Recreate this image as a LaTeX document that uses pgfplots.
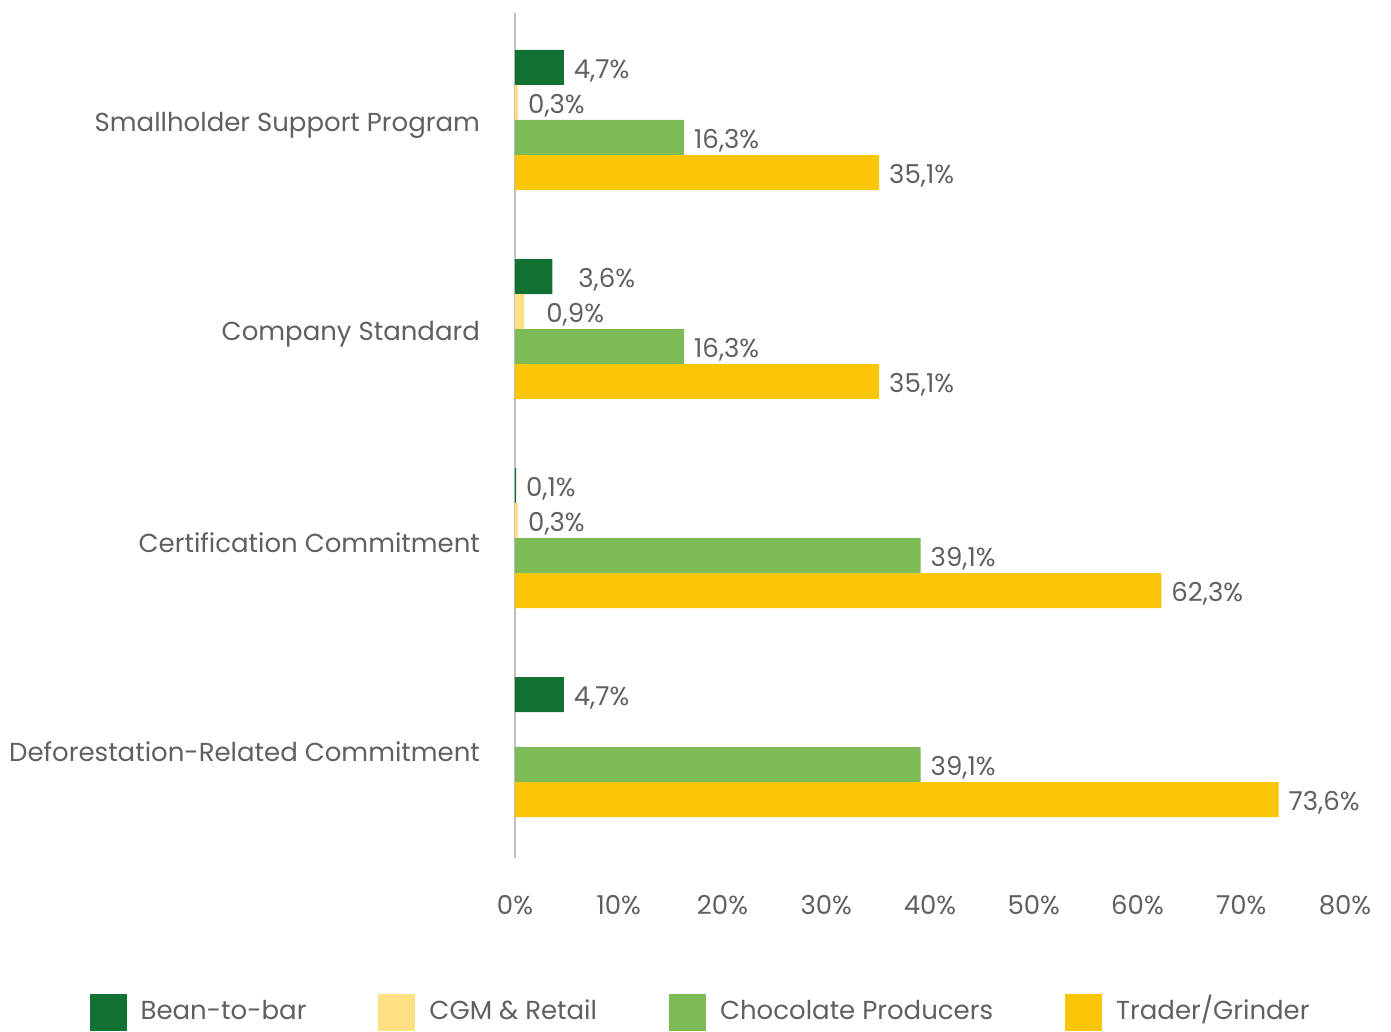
\documentclass[border=0pt]{standalone}
\usepackage{fontspec}
\setmainfont{Poppins}
\usepackage{pgfplots}
\pgfplotsset{compat=1.18}
\usetikzlibrary{calc}
\definecolor{beancol}{HTML}{137233}
\definecolor{cgmcol}{HTML}{FFE083}
\definecolor{choccol}{HTML}{7DBB56}
\definecolor{tradercol}{HTML}{FBC508}
\definecolor{txtcol}{HTML}{606060}
\definecolor{axcol}{HTML}{BFBFBF}
\newcommand{\lblfont}{\fontsize{13}{15}\selectfont}
\begin{document}
\begin{tikzpicture}
\begin{axis}[
  name=ax,
  at={(0,0)}, anchor=south west,
  scale only axis,
  width=415pt, height=422.5pt,
  xmin=0, xmax=80,
  ymin=-0.531, ymax=3.512,
  xbar, bar width=17.5pt,
  axis lines*=left,
  x axis line style={draw=none},
  y axis line style={draw=axcol, line width=0.8pt, -},
  major tick length=0pt,
  xtick={0,10,...,80},
  xticklabel={\pgfmathprintnumber{\tick}\%},
  /pgf/number format/assume math mode=true,
  xticklabel style={font=\lblfont, text=txtcol, yshift=-15pt},
  ytick={0,1,2,3},
  yticklabels={Deforestation-Related Commitment, Certification Commitment, Company Standard, Smallholder Support Program},
  yticklabel style={font=\lblfont, text=txtcol, xshift=-14pt, yshift=-2.5pt},
  nodes near coords,
  point meta=explicit symbolic,
  every node near coord/.append style={font=\lblfont, text=txtcol, anchor=west, xshift=1.5pt, yshift=-1.5pt},
  legend columns=4,
  legend style={draw=none, fill=none, inner sep=0pt, at={(-0.513,-0.183)}, anchor=west,
    font=\lblfont, text=txtcol,
    nodes={text height=9pt, text depth=2.5pt},
    /tikz/every odd column/.append style={column sep=5pt},
    /tikz/every even column/.append style={column sep=34pt}},
  legend image code/.code={\fill[#1] (0pt,-9.25pt) rectangle (18.5pt,9.25pt);},
]
\addplot[draw=none, fill=beancol, bar shift=26.25pt] coordinates {
  (4.7,3) [4,7\%]
  (3.6,2) [\hspace{8pt}3,6\%]
  (0.1,1) [0,1\%]
  (4.7,0) [4,7\%]
};
\addlegendentry{Bean-to-bar}
\addplot[draw=none, fill=cgmcol, bar shift=8.75pt] coordinates {
  (0.3,3) [0,3\%]
  (0.9,2) [\hspace{6pt}0,9\%]
  (0.3,1) [0,3\%]
};
\addlegendentry{CGM \& Retail}
\addplot[draw=none, fill=choccol, bar shift=-8.75pt] coordinates {
  (16.3,3) [16,3\%]
  (16.3,2) [16,3\%]
  (39.1,1) [39,1\%]
  (39.1,0) [39,1\%]
};
\addlegendentry{Chocolate Producers}
\addplot[draw=none, fill=tradercol, bar shift=-26.25pt] coordinates {
  (35.1,3) [35,1\%]
  (35.1,2) [35,1\%]
  (62.3,1) [62,3\%]
  (73.6,0) [73,6\%]
};
\addlegendentry{Trader/Grinder}
\end{axis}
\pgfresetboundingbox
\path ($(ax.south west)+(-257.5pt,-87pt)$) rectangle ($(ax.south west)+(438pt,429pt)$);
\end{tikzpicture}
\end{document}
